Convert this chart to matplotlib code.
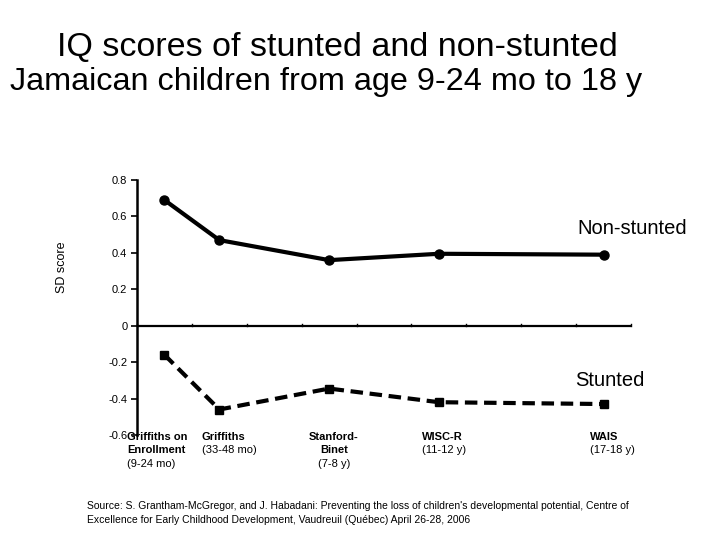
import matplotlib
matplotlib.use("Agg")
import matplotlib.pyplot as plt

plt.rcParams['font.family'] = ['Liberation Sans', 'DejaVu Sans']

# Data
slot_index = [0, 1, 3, 5, 8]          # category slot of each test on a 9-slot axis
n_slots = 9
non_stunted = [0.69, 0.47, 0.36, 0.395, 0.39]
stunted = [-0.16, -0.46, -0.345, -0.42, -0.43]
test_names = [["Griffiths on", "Enrollment"], ["Griffiths"], ["Stanford-", "Binet"], ["WISC-R"], ["WAIS"]]
test_ages = ["(9-24 mo)", "(33-48 mo)", "(7-8 y)", "(11-12 y)", "(17-18 y)"]
yticks = [0.8, 0.6, 0.4, 0.2, 0, -0.2, -0.4, -0.6]
ytick_labels = ["0.8", "0.6", "0.4", "0.2", "0", "-0.2", "-0.4", "-0.6"]
title_lines = ["IQ scores of stunted and non-stunted",
               "Jamaican children from age 9-24 mo to 18 y"]

fig = plt.figure(figsize=(7.2, 5.4), dpi=100)
ax = fig.add_axes([137/720, 1-435/540, (631-137)/720, (435-180)/540])

xs = [i + 0.5 for i in slot_index]
ax.plot(xs, non_stunted, color='black', lw=3, marker='o', ms=6.5, solid_capstyle='round')
ax.plot(xs, stunted, color='black', lw=3, ls=(0, (3, 1.6)), marker='s', ms=5.5)

ax.set_xlim(0, n_slots)
ax.set_ylim(-0.6, 0.8)
ax.set_yticks(yticks)
ax.set_yticklabels(ytick_labels, fontsize=8)
ax.tick_params(axis='y', direction='out', length=4, width=1.2, pad=3)

for s in ['top', 'right', 'bottom']:
    ax.spines[s].set_visible(False)
ax.spines['left'].set_linewidth(1.8)
ax.set_xticks([])
# horizontal zero axis with category ticks
ax.axhline(0, color='black', lw=1.6)
for k in range(n_slots + 1):
    ax.plot([k, k], [0, 0.012], color='black', lw=1, clip_on=False)

fig.text(62/720, 1-267/540, "SD score", fontsize=9, rotation=90, ha='center', va='center')

# Category labels
label_x = [127, 202, 334, 422, 590]
aligns = ['left', 'left', 'center', 'left', 'left']
line_y0 = 437
line_dy = 13.3
for name_lines, age, x, ha in zip(test_names, test_ages, label_x, aligns):
    for j, ln in enumerate(name_lines):
        fig.text(x/720, 1-(line_y0 + j*line_dy)/540, ln, fontsize=8, fontweight='bold',
                 ha=ha, va='center')
    fig.text(x/720, 1-(line_y0 + len(name_lines)*line_dy)/540, age, fontsize=8,
             ha=ha, va='center')

fig.text(577/720, 1-228/540, "Non-stunted", fontsize=14.5, ha='left', va='center')
fig.text(575/720, 1-380/540, "Stunted", fontsize=14.5, ha='left', va='center')

fig.text(337/720, 1-47/540, title_lines[0], fontsize=24.5, ha='center', va='center')
fig.text(326/720, 1-82/540, title_lines[1], fontsize=23.3, ha='center', va='center')

fig.text(87/720, 1-513/540,
         "Source: S. Grantham-McGregor, and J. Habadani: Preventing the loss of children's developmental potential, Centre of\n"
         "Excellence for Early Childhood Development, Vaudreuil (Québec) April 26-28, 2006",
         fontsize=7.5, ha='left', va='center', linespacing=1.55)

fig.savefig("out.png", dpi=100)
